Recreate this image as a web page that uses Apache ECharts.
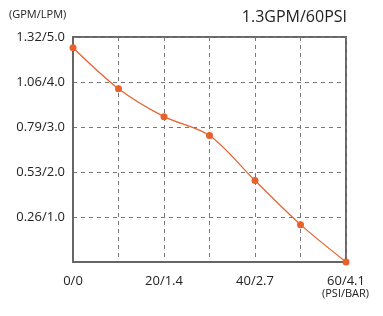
<!DOCTYPE html>
<html>
<head>
<meta charset="utf-8">
<script src="https://cdn.jsdelivr.net/npm/echarts@6/dist/echarts.min.js"></script>
<style>html,body{margin:0;padding:0;background:#fff;}#c{width:383px;height:316px;}</style>
</head>
<body>
<div id="c"></div>
<script>
const pressurePsi = [0, 10, 20, 30, 40, 50, 60];
const flowLpm = [4.76, 3.85, 3.23, 2.81, 1.81, 0.83, 0];
const xTickLabels = {0: '0/0', 20: '20/1.4', 40: '40/2.7', 60: '60/4.1'};
const yTickLabels = {1: '0.26/1.0', 2: '0.53/2.0', 3: '0.79/3.0', 4: '1.06/4.0', 5: '1.32/5.0'};
const titleText = '1.3GPM/60PSI';
const yUnit = '(GPM/LPM)';
const xUnit = '(PSI/BAR)';

const font = '"Open Sans", "Noto Sans", sans-serif';
const chart = echarts.init(document.getElementById('c'), null, {renderer: 'canvas'});
chart.setOption({
  animation: false,
  grid: {left: 73, right: 37, top: 37, bottom: 54, show: true, borderColor: '#666', borderWidth: 2, backgroundColor: 'transparent'},
  graphic: [
    {type: 'text', left: 9, top: 9, style: {text: yUnit, font: '11px ' + font, fill: '#222'}},
    {type: 'text', right: 36, top: 9, style: {text: titleText, font: '16px ' + font, fill: '#222'}},
    {type: 'text', left: 322, top: 288, style: {text: xUnit, font: '11px ' + font, fill: '#222'}}
  ],
  xAxis: {
    type: 'value', min: 0, max: 60, interval: 10,
    axisLine: {show: true, lineStyle: {color: '#666', width: 2}},
    axisTick: {show: false},
    axisLabel: {
      margin: 13, color: '#222', fontSize: 13, fontFamily: font,
      formatter: v => xTickLabels[v] || ''
    },
    splitLine: {show: true, lineStyle: {color: '#777', type: [4, 4], width: 1}}
  },
  yAxis: {
    type: 'value', min: 0, max: 5, interval: 1,
    axisLine: {show: true, lineStyle: {color: '#666', width: 2}},
    axisTick: {show: false},
    axisLabel: {
      margin: 8, color: '#222', fontSize: 13, fontFamily: font,
      formatter: v => yTickLabels[v] || ''
    },
    splitLine: {show: true, lineStyle: {color: '#777', type: [4, 4], width: 1}}
  },
  series: [{
    type: 'line',
    data: pressurePsi.map((p, i) => [p, flowLpm[i]]),
    smooth: 0.3,
    symbol: 'circle',
    symbolSize: 7,
    lineStyle: {color: '#e8602c', width: 1.2},
    itemStyle: {color: '#e8602c'},
    clip: false
  }]
});
</script>
</body>
</html>
